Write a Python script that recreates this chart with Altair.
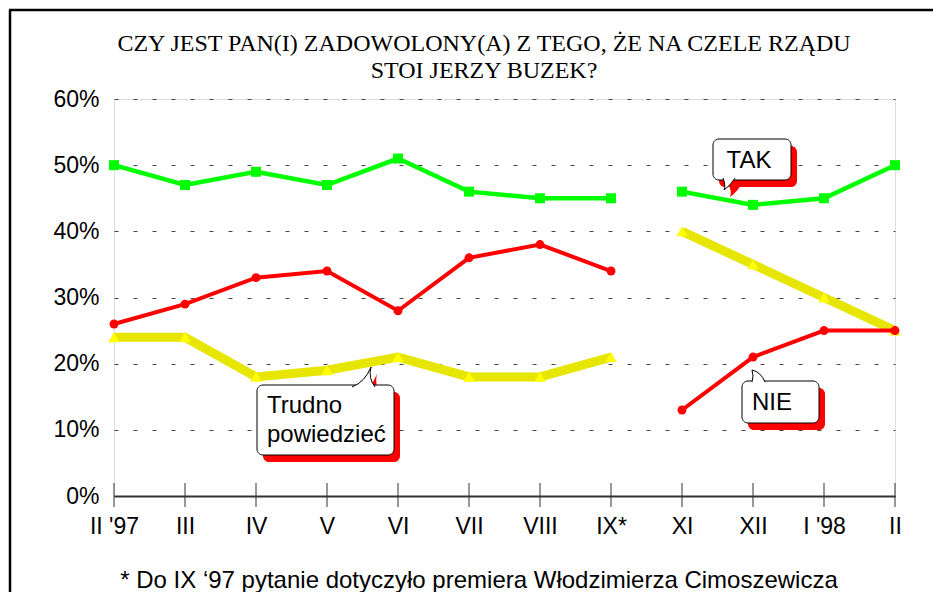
import altair as alt
import pandas as pd

months = ["II '97", "III", "IV", "V", "VI", "VII", "VIII", "IX*", "XI", "XII", "I '98", "II"]
tak = [50, 47, 49, 47, 51, 46, 45, 45, 46, 44, 45, 50]
nie = [26, 29, 33, 34, 28, 36, 38, 34, 13, 21, 25, 25]
trudno = [24, 24, 18, 19, 21, 18, 18, 21, 40, 35, 30, 25]
segment = [1, 1, 1, 1, 1, 1, 1, 1, 2, 2, 2, 2]

title_line1 = "CZY JEST PAN(I) ZADOWOLONY(A) Z TEGO, ŻE NA CZELE RZĄDU"
title_line2 = "STOI JERZY BUZEK?"
footnote = "* Do IX \u201897 pytanie dotyczyło premiera Włodzimierza Cimoszewicza"

df = pd.DataFrame({"miesiac": months, "TAK": tak, "NIE": nie, "Trudno": trudno, "odcinek": segment})
one = pd.DataFrame({"k": [0]})

W, H = 781, 397
PAD_R = 38
PAD_B = 96
FONT = "Liberation Sans"

x = alt.X("miesiac:N",
          scale=alt.Scale(type="point", domain=months, padding=0),
          axis=alt.Axis(title=None, labelAngle=0, labelFontSize=23, labelPadding=19,
                        ticks=False, domainColor="#333333", domainWidth=2,
                        labelColor="black", labelFont=FONT, grid=False))
yscale = alt.Scale(domain=[0, 60], nice=False)
yaxis = alt.Axis(title=None, values=[0, 10, 20, 30, 40, 50, 60], labelExpr="datum.value + '%'",
                 labelFontSize=23, labelPadding=15, ticks=False, domain=False, labelFont=FONT,
                 labelColor="black", grid=True, gridDash=[4, 15], gridColor="#444444", gridWidth=1)

base = alt.Chart(df)

layers = []

# frame (left and top edges; the others fall outside the picture)
layers.append(alt.Chart(one).mark_rule(color="black", strokeWidth=2.5).encode(
    x=alt.value(-104), y=alt.value(-89), y2=alt.value(H + PAD_B)))
layers.append(alt.Chart(one).mark_rule(color="black", strokeWidth=2.5).encode(
    x=alt.value(-105), x2=alt.value(W + PAD_R), y=alt.value(-89)))

# title
layers.append(alt.Chart(one).mark_text(text=title_line1, font="Liberation Serif", fontSize=24,
                                       color="black", align="center", baseline="middle").encode(
    x=alt.value(370), y=alt.value(-55)))
layers.append(alt.Chart(one).mark_text(text=title_line2, font="Liberation Serif", fontSize=24,
                                       color="black", align="center", baseline="middle").encode(
    x=alt.value(370), y=alt.value(-28)))

# tick marks across the x axis
layers.append(base.mark_rule(color="#333333", strokeWidth=1).encode(
    x=x, y=alt.value(H - 13), y2=alt.value(H + 11)))


def series(field, color, width, shape, msize, mcolor):
    y = alt.Y(f"{field}:Q", scale=yscale, axis=yaxis)
    line = base.mark_line(color=color, strokeWidth=width).encode(x=x, y=y, detail="odcinek:N")
    pts = base.mark_point(shape=shape, filled=True, size=msize, color=mcolor, opacity=1).encode(x=x, y=y)
    return [line, pts]


layers += series("Trudno", "#E6E600", 9, "triangle-up", 130, "#FFFF00")
layers += series("NIE", "#FF0000", 4, "circle", 80, "#FF0000")
layers += series("TAK", "#00FF00", 4.5, "square", 100, "#00FF00")


def callout(x1, y1, x2, y2, tx, ty, tpath, tsize):
    out = []
    out.append(alt.Chart(one).mark_rect(color="#FF0000", cornerRadius=6).encode(
        x=alt.value(x1 + 6), x2=alt.value(x2 + 6), y=alt.value(y1 + 7), y2=alt.value(y2 + 7)))
    out.append(alt.Chart(one).mark_point(shape=tpath, filled=True, fill="#FF0000", size=tsize, opacity=1).encode(
        x=alt.value(tx + 6), y=alt.value(ty + 7)))
    out.append(alt.Chart(one).mark_rect(fill="white", stroke="black", strokeWidth=1, cornerRadius=6).encode(
        x=alt.value(x1), x2=alt.value(x2), y=alt.value(y1), y2=alt.value(y2)))
    out.append(alt.Chart(one).mark_point(shape=tpath, filled=True, fill="white", stroke="black",
                                         strokeWidth=1, size=tsize, opacity=1).encode(
        x=alt.value(tx), y=alt.value(ty)))
    return out


layers += callout(599, 40, 677, 81, 614, 81,
                  "M -0.5 -0.2 Q -0.2 0.6 -0.4 1.0 Q 0.2 0.6 0.7 -0.2", 400)
layers.append(alt.Chart(one).mark_text(text="TAK", font=FONT, fontSize=24, color="black",
                                       align="center", baseline="middle").encode(
    x=alt.value(635), y=alt.value(62)))

layers += callout(143, 286, 280, 356, 249, 287,
                  "M -1.1 0.1 Q 0.2 -0.4 0.8 -1.9 Q 0.5 -0.8 1.2 0.1", 400)
layers.append(alt.Chart(one).mark_text(text=["Trudno", "powiedzieć"], font=FONT, fontSize=24,
                                       color="black", align="left", baseline="middle",
                                       lineHeight=29).encode(
    x=alt.value(153), y=alt.value(307)))

layers += callout(628, 282, 705, 324, 644, 282,
                  "M -0.6 0.1 Q -0.4 -0.5 -0.6 -1.1 Q 0.3 -0.9 0.7 0.1", 400)
layers.append(alt.Chart(one).mark_text(text="NIE", font=FONT, fontSize=24, color="black",
                                       align="center", baseline="middle").encode(
    x=alt.value(658), y=alt.value(304)))

# footnote
layers.append(alt.Chart(one).mark_text(text=footnote, font=FONT, fontSize=24, color="black",
                                       align="center", baseline="middle").encode(
    x=alt.value(365), y=alt.value(482)))

chart = alt.layer(*layers).properties(
    width=W, height=H,
    padding={"left": 106, "top": 91, "right": PAD_R, "bottom": PAD_B},
    autosize=alt.AutoSizeParams(type="none"),
).configure_view(stroke="#666666", strokeWidth=1.5).configure(background="white")

chart.save("out.html", embed_options={"renderer": "svg", "actions": False})
